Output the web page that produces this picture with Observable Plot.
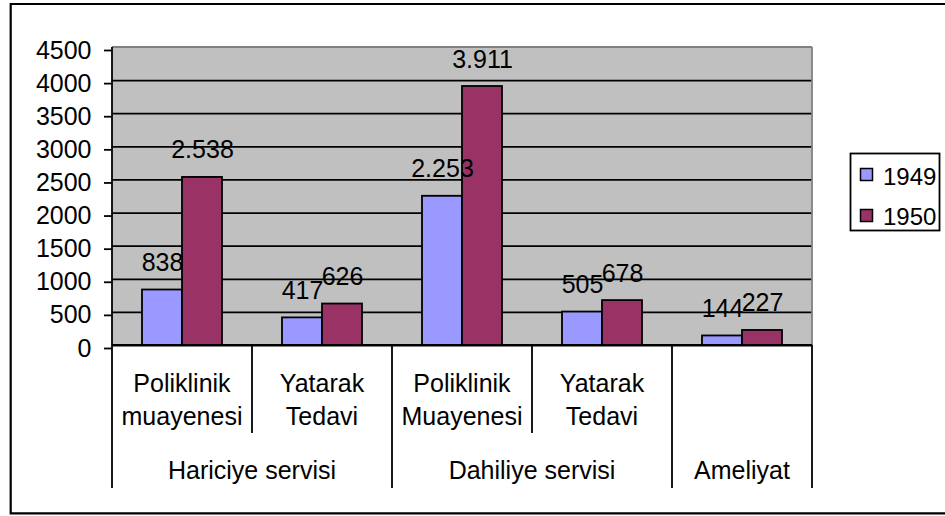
<!DOCTYPE html>
<html><head><meta charset="utf-8">
<script src="https://cdn.jsdelivr.net/npm/d3@7"></script>
<script src="https://cdn.jsdelivr.net/npm/@observablehq/plot@0.6"></script>
<style>html,body{margin:0;background:#fff;overflow:hidden} svg{display:block}</style>
</head><body><div id="chart"></div>
<script>
const groups = ["Hariciye servisi","Hariciye servisi","Dahiliye servisi","Dahiliye servisi","Ameliyat"];
const categories = ["Poliklinik\nmuayenesi","Yatarak\nTedavi","Poliklinik\nMuayenesi","Yatarak\nTedavi",""];
const years = ["1949","1950"];
const values1949 = [838,417,2253,505,144];
const values1950 = [2538,626,3911,678,227];
const yTicks = [0,500,1000,1500,2000,2500,3000,3500,4000,4500];
const colors = ["#9999FF","#993366"];

const keys = categories.map((c,i)=> i + "|" + groups[i] + "|" + c);
const data = [];
keys.forEach((k,i)=>{
  data.push({key:k, year:years[0], value:values1949[i]});
  data.push({key:k, year:years[1], value:values1950[i]});
});
const trFormat = d3.formatLocale({decimal:",", thousands:".", grouping:[3], currency:["",""]}).format(",d");
const FONT = "'Liberation Sans', Arial, Helvetica, sans-serif";
const FS = 25;
const LW = 1.8;

const plot = Plot.plot({
  width: 945, height: 516,
  marginLeft: 111, marginRight: 133, marginTop: 47, marginBottom: 171,
  style: {fontFamily: FONT, fontSize: FS + "px", color: "black", background: "transparent"},
  fx: {domain: keys, padding: 0, axis: null},
  x: {domain: years, paddingInner: 0, paddingOuter: 0.71, axis: null},
  y: {domain: [0,4500], axis: null},
  color: {domain: years, range: colors},
  marks: [
    Plot.ruleY(yTicks.slice(0,-1), {stroke: "black", strokeWidth: LW}),
    Plot.axisY({ticks: yTicks, tickFormat: d=>String(d), tickSize: 8, tickPadding: 13, label: null, dy: 3, fontSize: FS, facetAnchor: "left", strokeWidth: LW}),
    Plot.barY(data, {fx:"key", x:"year", y:"value", fill:"year", stroke:"black", strokeWidth: LW}),
    Plot.text(data, {fx:"key", x:"year", y:"value", text: d=>trFormat(d.value), lineAnchor:"bottom", dy:-19, fill:"black", fontSize: FS})
  ]
});
document.getElementById("chart").appendChild(plot);

const svg = d3.select(plot);
const fx = plot.scale("fx");
const ys = plot.scale("y");
const bw = fx.bandwidth;
const left = fx.apply(keys[0]);
const right = fx.apply(keys[keys.length-1]) + bw;
const y0 = ys.apply(0), yTop = ys.apply(4500);

svg.insert("rect", ":first-child")
  .attr("x", left).attr("y", yTop).attr("width", right-left).attr("height", y0-yTop)
  .attr("fill", "#c0c0c0");
svg.insert("rect", ":first-child").attr("width", 945).attr("height", 516).attr("fill", "#fff");

const g = svg.append("g").attr("stroke-width", LW);
g.append("line").attr("x1", left).attr("x2", right).attr("y1", yTop).attr("y2", yTop).attr("stroke", "#808080");
g.append("line").attr("x1", right).attr("x2", right).attr("y1", yTop).attr("y2", y0).attr("stroke", "#808080");
g.append("line").attr("x1", left).attr("x2", right).attr("y1", y0).attr("y2", y0).attr("stroke", "black");
const shortEnd = y0 + 88, longEnd = y0 + 143;
g.append("line").attr("x1", left).attr("x2", left).attr("y1", yTop).attr("y2", longEnd).attr("stroke", "black");
keys.forEach((k,i)=>{
  const xr = fx.apply(k) + bw;
  const last = i === keys.length-1;
  const sameGroup = !last && groups[i] === groups[i+1];
  g.append("line").attr("x1", xr).attr("x2", xr).attr("y1", y0).attr("y2", sameGroup ? shortEnd : longEnd).attr("stroke", "black");
});

const tg = svg.append("g").attr("font-family", FONT).attr("font-size", FS).attr("text-anchor", "middle").attr("fill", "black");
keys.forEach((k,i)=>{
  const cx = fx.apply(k) + bw/2;
  categories[i].split("\n").forEach((line,j)=>{
    if (line) tg.append("text").attr("x", cx).attr("y", y0 + 47 + j*33).text(line);
  });
});
const uniq = [...new Set(groups)];
uniq.forEach(gr=>{
  const idx = groups.map((x,i)=>x===gr?i:-1).filter(i=>i>=0);
  const x1 = fx.apply(keys[idx[0]]), x2 = fx.apply(keys[idx[idx.length-1]]) + bw;
  tg.append("text").attr("x", (x1+x2)/2).attr("y", y0 + 134).text(gr);
});

const lg = svg.append("g").attr("font-family", FONT).attr("font-size", 24).attr("text-anchor", "start");
lg.append("rect").attr("x", 850.5).attr("y", 153.5).attr("width", 89).attr("height", 77).attr("fill", "white").attr("stroke", "black").attr("stroke-width", LW);
const color = plot.scale("color");
years.forEach((yr,i)=>{
  lg.append("rect").attr("x", 860.5).attr("y", 168.5 + i*41).attr("width", 12).attr("height", 12)
    .attr("fill", color.apply(yr)).attr("stroke", "black").attr("stroke-width", 1.5);
  lg.append("text").attr("x", 883).attr("y", 185 + i*40).text(yr);
});

svg.append("path").attr("d", "M945,4 H10.7 V513.3 H945")
  .attr("fill", "none").attr("stroke", "black").attr("stroke-width", 2.2);
</script>
</body></html>
